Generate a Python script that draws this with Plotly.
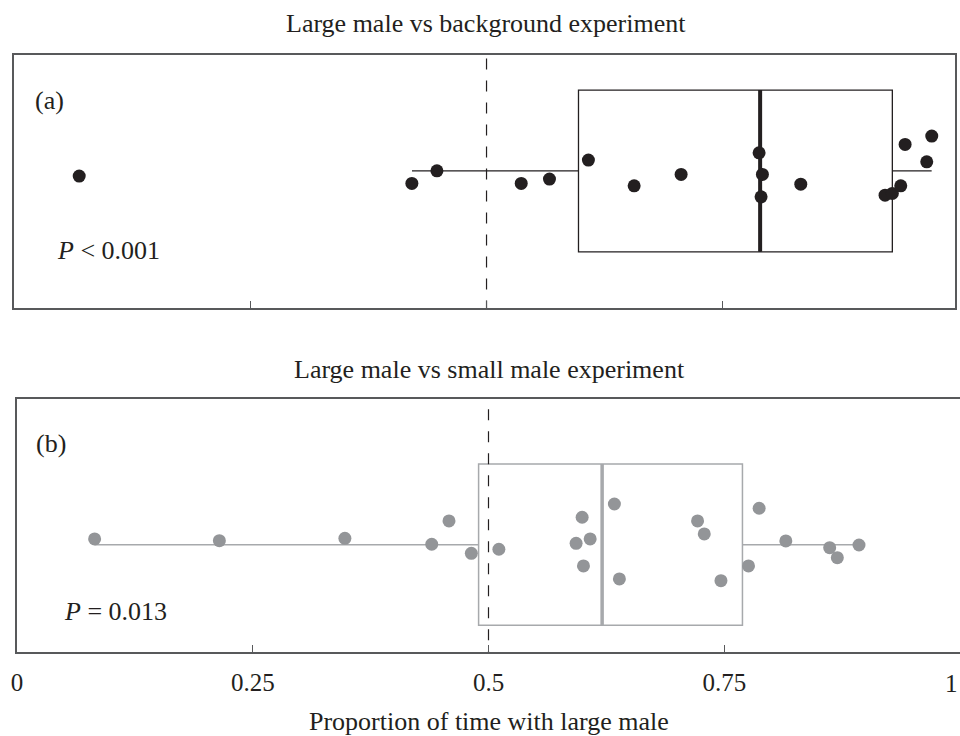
import plotly.graph_objects as go

# ---------------- data ----------------
# Panel (a): Large male vs background experiment
a_values = [0.069, 0.421, 0.4475, 0.5367, 0.5666, 0.6078, 0.6562, 0.7059,
            0.7884, 0.7919, 0.7905, 0.8325, 0.9217, 0.9294, 0.9383, 0.9429,
            0.9711, 0.9658]
a_jitter = [-0.064, -0.154, 0.002, -0.154, -0.101, 0.134, -0.184, -0.043,
            0.224, -0.043, -0.320, -0.163, -0.299, -0.278, -0.184, 0.328,
            0.431, 0.113]
a_box = dict(lower=0.4211, q1=0.5973, median=0.7895, q3=0.9294, upper=0.971)

# Panel (b): Large male vs small male experiment
b_values = [0.0823, 0.2146, 0.3477, 0.4398, 0.4581, 0.4818, 0.5110, 0.5929,
            0.5993, 0.6078, 0.6007, 0.6335, 0.6388, 0.7217, 0.7288, 0.7465,
            0.7757, 0.7870, 0.8153, 0.8618, 0.8699, 0.8929]
b_jitter = [0.071, 0.050, 0.079, 0.005, 0.294, -0.107, -0.057, 0.017,
            0.340, 0.071, -0.264, 0.504, -0.425, 0.294, 0.133, -0.446,
            -0.264, 0.451, 0.046, -0.037, -0.161, -0.004]
b_box = dict(lower=0.0823, q1=0.4895, median=0.6205, q3=0.7693, upper=0.8929)

tick_vals = [0, 0.25, 0.5, 0.75, 1]
tick_text = ["0", "0.25", "0.5", "0.75", "1"]
reference_line = 0.5

titles = ["Large male vs background experiment", "Large male vs small male experiment"]
panel_labels = ["(a)", "(b)"]
p_labels = ["<i>P</i> &lt; 0.001", "<i>P</i> = 0.013"]
x_title = "Proportion of time with large male"

# ---------------- style ----------------
W, H = 960, 736
FONT = "Liberation Serif"
TXT = "#231f20"
FRAME = "#58595b"
DARK = "#231f20"
GREY_PT = "#939598"
GREY_LN = "#a7a9ac"

def px(xp):
    return xp / W

def py(yp):
    return 1 - yp / H

fig = go.Figure()

def add_panel(xa, ya, vals, jit, box, pt_color, ln_color, med_w, box_w):
    fig.add_trace(go.Box(
        q1=[box["q1"]], median=[box["median"]], q3=[box["q3"]],
        lowerfence=[box["lower"]], upperfence=[box["upper"]],
        y=[0], orientation="h", width=2, whiskerwidth=0,
        line=dict(color=ln_color, width=box_w), fillcolor="rgba(0,0,0,0)",
        boxpoints=False, hoverinfo="skip", showlegend=False,
        xaxis=xa, yaxis=ya))
    fig.add_trace(go.Scatter(
        x=[box["median"], box["median"]], y=[-1, 1], mode="lines",
        line=dict(color=ln_color, width=med_w), showlegend=False,
        hoverinfo="skip", xaxis=xa, yaxis=ya))
    fig.add_trace(go.Scatter(
        x=[reference_line, reference_line], y=[-5, 5], mode="lines",
        line=dict(color=DARK, width=1.2, dash="11px,11px"), showlegend=False,
        hoverinfo="skip", xaxis=xa, yaxis=ya))
    fig.add_trace(go.Scatter(
        x=vals, y=jit, mode="markers",
        marker=dict(color=pt_color, size=13, line=dict(width=0)),
        showlegend=False, xaxis=xa, yaxis=ya))

add_panel("x", "y", a_values, a_jitter, a_box, DARK, DARK, 4, 1.3)
add_panel("x2", "y2", b_values, b_jitter, b_box, GREY_PT, GREY_LN, 3.5, 1.5)

axis_common = dict(showgrid=False, zeroline=False, showline=True,
                   linecolor=FRAME, linewidth=1.5, automargin=False)

fig.update_layout(
    width=W, height=H,
    margin=dict(l=0, r=0, t=0, b=0, pad=0),
    paper_bgcolor="white", plot_bgcolor="white",
    font=dict(family=FONT, color=TXT, size=25),
    xaxis=dict(domain=[px(14), px(955)], range=[0, 0.9957], anchor="y",
               mirror=True, ticks="inside", ticklen=7, tickcolor=FRAME,
               tickwidth=1.3, tickvals=[0.25, 0.5, 0.75], showticklabels=False,
               **axis_common),
    yaxis=dict(domain=[py(308), py(55)], range=[-1.694, 1.433], anchor="x",
               mirror=True, ticks="", showticklabels=False, **axis_common),
    xaxis2=dict(domain=[px(17), 1], range=[0, 1.0], anchor="y2",
                mirror=True, ticks="inside", ticklen=7, tickcolor=FRAME,
                tickwidth=1.3, tickvals=tick_vals[:-1], ticktext=tick_text[:-1],
                tickfont=dict(family=FONT, color=TXT, size=25),
                ticklabelstandoff=7,
                **axis_common),
    yaxis2=dict(domain=[py(652), py(399)], range=[-1.330, 1.805], anchor="x2",
                mirror=False, ticks="", showticklabels=False, **axis_common),
)

ann = []
def add_text(text, xp, yp, xanchor="center", size=26):
    ann.append(dict(text=text, x=px(xp), y=py(yp), xref="paper", yref="paper",
                    xanchor=xanchor, yanchor="middle", showarrow=False,
                    font=dict(family=FONT, color=TXT, size=size)))

add_text(titles[0], 486, 23)
add_text(titles[1], 489, 369)
add_text(panel_labels[0], 33, 101, "left")
add_text(panel_labels[1], 34, 443, "left")
add_text(p_labels[0], 55, 250, "left")
add_text(p_labels[1], 62, 611, "left")
add_text(x_title, 489, 721)
# last tick label sits at the right edge of the figure
ann.append(dict(text=tick_text[-1], x=tick_vals[-1], y=py(683), xref="x2", yref="paper",
                xanchor="right", yanchor="middle", showarrow=False,
                font=dict(family=FONT, color=TXT, size=25)))
fig.update_layout(annotations=ann)

fig.write_html("out.html")
